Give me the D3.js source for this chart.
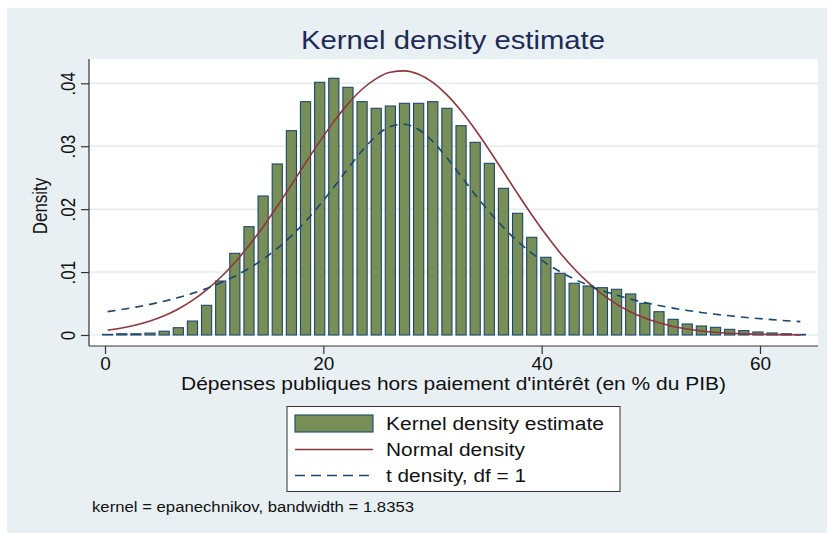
<!DOCTYPE html>
<html>
<head>
<meta charset="utf-8">
<script src="https://cdn.jsdelivr.net/npm/d3@7"></script>
<style>
  body { margin: 0; background: #ffffff; }
  svg { display: block; font-family: "Liberation Sans", Arial, sans-serif; }
</style>
</head>
<body>
<svg id="chart" width="827" height="533"></svg>
<script>
// ---- data ----
const gridX = [0.24, 1.535, 2.83, 4.125, 5.42, 6.715, 8.01, 9.305, 10.6, 11.895,
  13.19, 14.485, 15.78, 17.075, 18.37, 19.665, 20.96, 22.255, 23.55, 24.845,
  26.14, 27.435, 28.73, 30.025, 31.32, 32.615, 33.91, 35.205, 36.5, 37.795,
  39.09, 40.385, 41.68, 42.975, 44.27, 45.565, 46.86, 48.155, 49.45, 50.745,
  52.04, 53.335, 54.63, 55.925, 57.22, 58.515, 59.81, 61.105, 62.4, 63.695];

const kernelDensity = [0.0001, 0.0002, 0.0002, 0.0003, 0.0006, 0.00116, 0.00222, 0.00472, 0.00858, 0.01298,
  0.01721, 0.02209, 0.02718, 0.03247, 0.03708, 0.04016, 0.0408, 0.03936, 0.03708, 0.03603,
  0.03639, 0.03682, 0.03682, 0.03708, 0.03603, 0.03326, 0.03062, 0.02728, 0.02331, 0.01934,
  0.01553, 0.01235, 0.0098, 0.00822, 0.00779, 0.00752, 0.00726, 0.00652, 0.00503, 0.0037,
  0.00249, 0.00175, 0.00143, 0.00122, 0.0009, 0.00069, 0.00048, 0.00032, 0.0002, 0.0001];

const normalDensity = [0.000755, 0.001102, 0.001577, 0.002215, 0.003053, 0.004136, 0.005494, 0.007168, 0.009175, 0.011527,
  0.014218, 0.017217, 0.020467, 0.023876, 0.027344, 0.030733, 0.033911, 0.036733, 0.039051, 0.040751,
  0.041742, 0.041974, 0.041427, 0.040134, 0.038169, 0.035629, 0.032647, 0.029364, 0.025925, 0.022469,
  0.01911, 0.015956, 0.013076, 0.010523, 0.00831, 0.006441, 0.0049, 0.003662, 0.002684, 0.001932,
  0.001365, 0.000946, 0.000644, 0.00043, 0.000282, 0.000182, 0.000115, 0.000071, 0.000043, 0.000026];

const tDensity = [0.00371, 0.00405, 0.004433, 0.00487, 0.005373, 0.005949, 0.006616, 0.007392, 0.008295, 0.00935,
  0.010591, 0.012048, 0.013759, 0.015749, 0.018046, 0.020647, 0.023492, 0.02645, 0.029279, 0.031635,
  0.033141, 0.033504, 0.03265, 0.030752, 0.028158, 0.025237, 0.022303, 0.019546, 0.017068, 0.014896,
  0.013025, 0.011423, 0.01006, 0.008899, 0.007908, 0.00706, 0.006331, 0.005703, 0.005158, 0.004684,
  0.00427, 0.003905, 0.003584, 0.0033, 0.003047, 0.002821, 0.002619, 0.002437, 0.002273, 0.002125];

const xTicks = [0, 20, 40, 60];
const yTicks = [0, 0.01, 0.02, 0.03, 0.04];
const yTickLabels = ["0", ".01", ".02", ".03", ".04"];
const legendLabels = ["Kernel density estimate", "Normal density", "t density, df = 1"];
const titleText = "Kernel density estimate";
const xTitle = "Dépenses publiques hors paiement d'intérêt (en % du PIB)";
const yTitle = "Density";
const noteText = "kernel = epanechnikov, bandwidth = 1.8353";

// ---- styles ----
const bgColor = "#e8f0f3";
const barFill = "#778f57";
const navy = "#1a476f";
const maroon = "#90353b";
const gridColor = "#e4ecf0";
const textColor = "#111111";
const legendTextWidths = [218, 139, 140];

const svg = d3.select("#chart");

// background
svg.append("rect").attr("x", 7).attr("y", 8).attr("width", 820).attr("height", 525).attr("fill", bgColor);

// plot region
const plot = { left: 89, right: 818, top: 59, bottom: 346 };
svg.append("rect").attr("x", plot.left).attr("y", plot.top)
  .attr("width", plot.right - plot.left).attr("height", plot.bottom - plot.top)
  .attr("fill", "#ffffff");

const x = d3.scaleLinear().domain([0, 60]).range([105, 760]);
const y = d3.scaleLinear().domain([0, 0.04]).range([335, 83.3]);

// gridlines
svg.append("g").selectAll("line").data(yTicks).join("line")
  .attr("x1", plot.left).attr("x2", plot.right)
  .attr("y1", d => y(d)).attr("y2", d => y(d))
  .attr("stroke", gridColor).attr("stroke-width", 1.5);

// bars
const barW = x(0.93) - x(0);
svg.append("g").selectAll("rect").data(gridX).join("rect")
  .attr("x", (d) => x(d) - barW / 2)
  .attr("y", (d, i) => y(kernelDensity[i]))
  .attr("width", barW)
  .attr("height", (d, i) => y(0) - y(kernelDensity[i]))
  .attr("fill", barFill).attr("stroke", navy).attr("stroke-width", 1.1);

// lines
const pts = (arr) => gridX.map((d, i) => [d, arr[i]]);
const line = d3.line().x(d => x(d[0])).y(d => y(d[1])).curve(d3.curveMonotoneX);
svg.append("path").datum(pts(normalDensity)).attr("d", line)
  .attr("fill", "none").attr("stroke", maroon).attr("stroke-width", 1.6);
svg.append("path").datum(pts(tDensity)).attr("d", line)
  .attr("fill", "none").attr("stroke", navy).attr("stroke-width", 1.6)
  .attr("stroke-dasharray", "8,6");

// axes
const xAxis = d3.axisBottom(x).tickValues(xTicks).tickSize(8).tickPadding(3).tickFormat(d3.format("d"));
const gx = svg.append("g").attr("transform", `translate(0,${plot.bottom})`).call(xAxis);
gx.select(".domain").attr("d", `M${plot.left},0H${plot.right}`).attr("stroke", "#333").attr("stroke-width", 1.2);
gx.selectAll(".tick line").attr("stroke", "#333").attr("stroke-width", 1.2);
gx.selectAll(".tick text").attr("font-size", 19).attr("fill", textColor)
  .attr("font-family", "Liberation Sans, Arial, sans-serif");

const yAxis = d3.axisLeft(y).tickValues(yTicks).tickSize(8).tickFormat((d, i) => yTickLabels[i]);
const gy = svg.append("g").attr("transform", `translate(${plot.left},0)`).call(yAxis);
gy.select(".domain").attr("d", `M0,${plot.top}V${plot.bottom}`).attr("stroke", "#333").attr("stroke-width", 1.2);
gy.selectAll(".tick line").attr("stroke", "#333").attr("stroke-width", 1.2);
gy.selectAll(".tick text")
  .attr("font-size", 17).attr("fill", textColor)
  .attr("font-family", "Liberation Sans, Arial, sans-serif")
  .attr("x", null)
  .attr("text-anchor", "middle")
  .attr("transform", "translate(-21,0) rotate(-90) scale(1,1.15)")
  .attr("dy", "0.35em");

// titles
svg.append("text").attr("x", 453).attr("y", 49).attr("text-anchor", "middle")
  .attr("font-size", 26).attr("fill", "#1e2b57")
  .attr("textLength", 304).attr("lengthAdjust", "spacingAndGlyphs").text(titleText);
svg.append("text").attr("x", 453.5).attr("y", 390).attr("text-anchor", "middle")
  .attr("font-size", 18).attr("fill", textColor)
  .attr("textLength", 545).attr("lengthAdjust", "spacingAndGlyphs").text(xTitle);
svg.append("text").attr("transform", "translate(47,206) rotate(-90) scale(1,1.15)").attr("text-anchor", "middle")
  .attr("font-size", 17).attr("fill", textColor).text(yTitle);

// legend
const lg = svg.append("g");
lg.append("rect").attr("x", 287).attr("y", 406.5).attr("width", 333).attr("height", 85)
  .attr("fill", "#ffffff").attr("stroke", "#333").attr("stroke-width", 1);
const rowY = [423.5, 449.5, 475.5];
lg.append("rect").attr("x", 295).attr("y", rowY[0] - 8.5).attr("width", 78).attr("height", 17)
  .attr("fill", barFill).attr("stroke", navy).attr("stroke-width", 1.1);
lg.append("line").attr("x1", 295).attr("x2", 373).attr("y1", rowY[1]).attr("y2", rowY[1])
  .attr("stroke", maroon).attr("stroke-width", 1.6);
lg.append("line").attr("x1", 295).attr("x2", 373).attr("y1", rowY[2]).attr("y2", rowY[2])
  .attr("stroke", navy).attr("stroke-width", 1.6).attr("stroke-dasharray", "10,6");
lg.selectAll("text.lab").data(legendLabels).join("text").attr("class", "lab")
  .attr("x", 386).attr("y", (d, i) => rowY[i]).attr("dy", "0.36em")
  .attr("font-size", 18).attr("fill", textColor)
  .attr("textLength", (d, i) => legendTextWidths[i]).attr("lengthAdjust", "spacingAndGlyphs")
  .text(d => d);

// note
svg.append("text").attr("x", 92).attr("y", 512).attr("font-size", 14).attr("fill", textColor)
  .attr("textLength", 322).attr("lengthAdjust", "spacingAndGlyphs").text(noteText);
</script>
</body>
</html>
